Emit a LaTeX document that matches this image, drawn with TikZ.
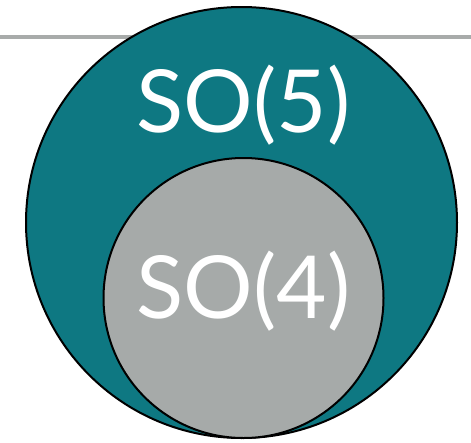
\documentclass[tikz,border=0pt]{standalone}
\usepackage{fontspec}
\setmainfont{Lato}
\definecolor{tealfill}{RGB}{14,120,130}
\definecolor{grayfill}{RGB}{166,170,169}
\definecolor{rulegray}{RGB}{168,171,170}
\begin{document}
\begin{tikzpicture}[x=1pt,y=-1pt,
  bigcirc/.style={circle,draw=black,line width=2pt,inner sep=0pt},
  label/.style={text=white,font=\fontsize{87}{87}\selectfont,inner sep=0pt,anchor=base}]
\useasboundingbox (0,0) rectangle (471,442);
\coordinate (la) at (0,37);
\coordinate (lb) at (471,37);
\draw[rulegray,line width=4pt] (la) -- (lb);
\node[bigcirc,fill=tealfill,minimum size=431pt] (outer) at (241.5,222.5) {};
\node[bigcirc,fill=grayfill,minimum size=280pt] (inner) at (243.5,298) {};
\node[label] (t5) at (243.5,132) {SO(5)};
\node[label] (t4) at (243.5,318) {SO(4)};
\end{tikzpicture}
\end{document}
